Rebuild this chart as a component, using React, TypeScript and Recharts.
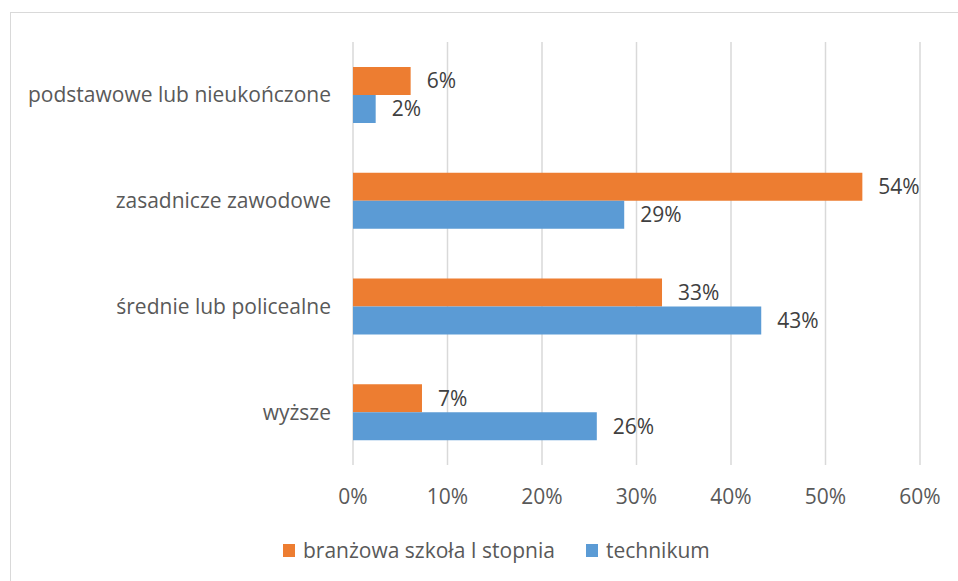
import React from "react";
import {
  BarChart,
  Bar,
  XAxis,
  YAxis,
  CartesianGrid,
  Legend,
  LabelList,
} from "recharts";

const categories = [
  "podstawowe lub nieukończone",
  "zasadnicze zawodowe",
  "średnie lub policealne",
  "wyższe",
];
const branzowa = [6.1, 53.9, 32.7, 7.3];
const technikum = [2.4, 28.7, 43.2, 25.8];
const xTicks = [0, 10, 20, 30, 40, 50, 60];
const seriesNames = ["branżowa szkoła I stopnia", "technikum"];
const colors = ["#ED7D31", "#5B9BD5"];

const data = categories.map((name, i) => ({
  name,
  branzowa: branzowa[i],
  technikum: technikum[i],
}));

const FONT = "'Open Sans', sans-serif";

const LegendContent = () => (
  <div style={{ display: "flex", alignItems: "center", fontFamily: FONT, fontSize: 21, color: "#595959" }}>
    {seriesNames.map((s, i) => (
      <div key={s} style={{ display: "flex", alignItems: "center", width: i === 0 ? 303 : 200 }}>
        <div style={{ width: 12, height: 13, background: colors[i], marginRight: 8 }} />
        <span style={{ whiteSpace: "nowrap" }}>{s}</span>
      </div>
    ))}
  </div>
);

export default function App() {
  return (
    <div style={{ position: "absolute", left: 0, top: 0, width: 958, height: 581, overflow: "hidden", background: "#fff" }}>
      <div style={{ position: "absolute", left: 10, top: 12, width: 1200, height: 1200, border: "1px solid #D9D9D9" }} />
      <div style={{ position: "absolute", left: 0, top: 0 }}>
        <BarChart
          width={958}
          height={581}
          data={data}
          layout="vertical"
          margin={{ top: 42, right: 38, left: 0, bottom: 80 }}
          barGap={0}
          style={{ fontFamily: FONT }}
        >
          <CartesianGrid horizontal={false} stroke="#D9D9D9" strokeWidth={1.5} />
          <XAxis
            type="number"
            domain={[0, 60]}
            ticks={xTicks}
            tickFormatter={(v) => `${v}%`}
            axisLine={false}
            tickLine={false}
            tickSize={0}
            tickMargin={24}
            height={36}
            tick={{ fill: "#595959", fontSize: 21 }}
            interval={0}
          />
          <YAxis
            type="category"
            dataKey="name"
            width={353}
            axisLine={false}
            tickLine={false}
            tickSize={0}
            tickMargin={22}
            tick={{ fill: "#595959", fontSize: 21 }}
            interval={0}
          />
          <Legend
            layout="horizontal"
            verticalAlign="middle"
            align="center"
            content={<LegendContent />}
            wrapperStyle={{ top: 536, left: 283, width: 600, height: 28 }}
          />
          <Bar dataKey="branzowa" name={seriesNames[0]} fill={colors[0]} barSize={28} isAnimationActive={false}>
            <LabelList
              dataKey="branzowa"
              position="right"
              offset={16}
              formatter={(v: number) => `${Math.round(v)}%`}
              style={{ fill: "#404040", fontSize: 21 }}
            />
          </Bar>
          <Bar dataKey="technikum" name={seriesNames[1]} fill={colors[1]} barSize={28} isAnimationActive={false}>
            <LabelList
              dataKey="technikum"
              position="right"
              offset={16}
              formatter={(v: number) => `${Math.round(v)}%`}
              style={{ fill: "#404040", fontSize: 21 }}
            />
          </Bar>
        </BarChart>
      </div>
    </div>
  );
}
